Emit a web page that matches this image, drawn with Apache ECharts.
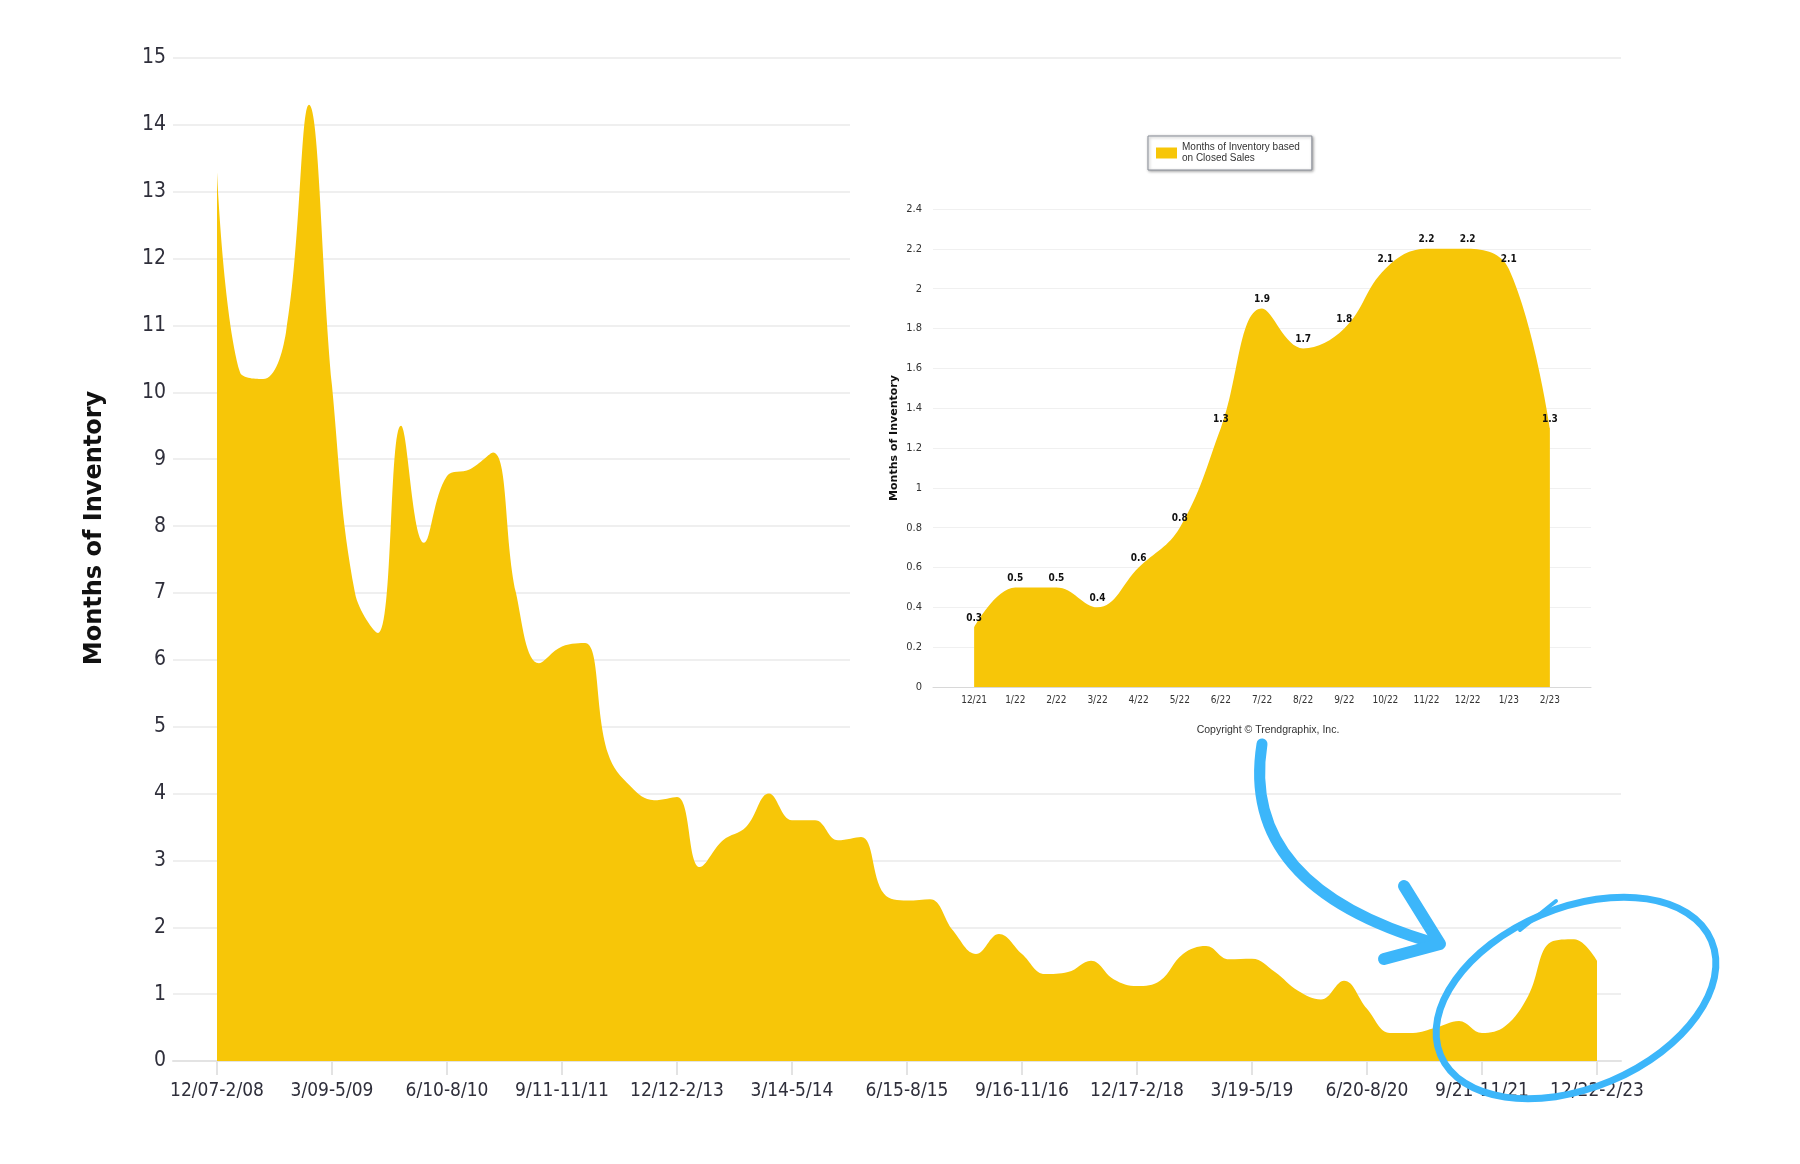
<!DOCTYPE html>
<html>
<head>
<meta charset="utf-8">
<script src="https://cdn.jsdelivr.net/npm/echarts@6/dist/echarts.min.js"></script>
<style>
  html, body { margin: 0; padding: 0; background: #fff; }
  #chart { width: 1800px; height: 1164px; }
</style>
</head>
<body>
<div id="chart"></div>
<script>
// quarterly periods of the long chart
const quarterLabels = [
  "12/07-2/08", "3/08-5/08", "6/08-8/08", "9/08-11/08",
  "12/08-2/09", "3/09-5/09", "6/09-8/09", "9/09-11/09",
  "12/09-2/10", "3/10-5/10", "6/10-8/10", "9/10-11/10",
  "12/10-2/11", "3/11-5/11", "6/11-8/11", "9/11-11/11",
  "12/11-2/12", "3/12-5/12", "6/12-8/12", "9/12-11/12",
  "12/12-2/13", "3/13-5/13", "6/13-8/13", "9/13-11/13",
  "12/13-2/14", "3/14-5/14", "6/14-8/14", "9/14-11/14",
  "12/14-2/15", "3/15-5/15", "6/15-8/15", "9/15-11/15",
  "12/15-2/16", "3/16-5/16", "6/16-8/16", "9/16-11/16",
  "12/16-2/17", "3/17-5/17", "6/17-8/17", "9/17-11/17",
  "12/17-2/18", "3/18-5/18", "6/18-8/18", "9/18-11/18",
  "12/18-2/19", "3/19-5/19", "6/19-8/19", "9/19-11/19",
  "12/19-2/20", "3/20-5/20", "6/20-8/20", "9/20-11/20",
  "12/20-2/21", "3/21-5/21", "6/21-8/21", "9/21-11/21",
  "12/21-2/22", "3/22-5/22", "6/22-8/22", "9/22-11/22",
  "12/22-2/23"
];

const monthsOfInventory = [
  13.3, 10.3, 10.2, 10.9, 14.3, 10.1, 7.0, 6.4, 9.5, 7.75,
  8.75, 8.85, 9.1, 7.0, 5.95, 6.2, 6.25, 4.6, 4.1, 3.9,
  3.95, 2.9, 3.3, 3.5, 4.0, 3.6, 3.6, 3.3, 3.35, 2.5,
  2.4, 2.42, 1.95, 1.6, 1.9, 1.6, 1.3, 1.33, 1.5, 1.22,
  1.12, 1.2, 1.6, 1.72, 1.52, 1.53, 1.33, 1.05, 0.92, 1.2,
  0.78, 0.42, 0.42, 0.5, 0.6, 0.42, 0.52, 0.97, 1.78, 1.82,
  1.5
];

// monthly inset
const insetMonths = ["12/21", "1/22", "2/22", "3/22", "4/22", "5/22", "6/22", "7/22",
  "8/22", "9/22", "10/22", "11/22", "12/22", "1/23", "2/23"];
const insetValues = [0.3, 0.5, 0.5, 0.4, 0.6, 0.8, 1.3, 1.9, 1.7, 1.8, 2.1, 2.2, 2.2, 2.1, 1.3];
const insetName = "Months of Inventory based on Closed Sales";

const yellow = "#f7c608";
const blue = "#3cb6fa";
const narrow = "'Liberation Sans Narrow', 'DejaVu Sans Condensed', sans-serif";

let myChart = echarts.init(document.getElementById("chart"));

let option = {
  animation: false,
  backgroundColor: "#fff",
  grid: [
    { left: 217, right: 203, top: 58, bottom: 103 },
    { left: 173, right: 179, top: 58, bottom: 103 },
    { left: 933, right: 209, top: 209, bottom: 477 },
  ],
  legend: {
    data: [insetName],
    left: 1148,
    top: 136,
    icon: "rect",
    itemWidth: 21,
    itemHeight: 11,
    itemGap: 0,
    padding: [6, 12, 6, 8],
    borderColor: "#8a8f99",
    borderWidth: 1,
    backgroundColor: "#fff",
    shadowColor: "rgba(0,0,0,0.35)",
    shadowBlur: 3,
    shadowOffsetX: 1,
    shadowOffsetY: 1,
    selectedMode: false,
    formatter: () => "Months of Inventory based\non Closed Sales",
    textStyle: { fontSize: 10, color: "#333", fontFamily: "Liberation Sans", lineHeight: 11 },
  },
  xAxis: [
    {
      gridIndex: 0,
      type: "category",
      data: quarterLabels,
      boundaryGap: false,
      axisLine: { show: false },
      axisTick: { show: true, interval: 4, length: 14, lineStyle: { color: "#e3e3e3", width: 2 } },
      axisLabel: { interval: 4, margin: 21, fontSize: 19, color: "#2f2f3b", fontFamily: narrow },
      splitLine: { show: false },
    },
    {
      gridIndex: 1,
      type: "value",
      min: 0,
      max: 1,
      axisLine: { show: true, lineStyle: { color: "#e3e3e3", width: 2 } },
      axisTick: { show: false },
      axisLabel: { show: false },
      splitLine: { show: false },
    },
    {
      gridIndex: 2,
      type: "value",
      min: -1,
      max: 15,
      interval: 1,
      z: 3,
      axisLine: { lineStyle: { color: "#d8d8d8" } },
      axisTick: { show: false },
      axisLabel: {
        formatter: (v) => insetMonths[v] || "",
        fontSize: 10,
        color: "#333",
        margin: 8,
        fontFamily: narrow,
      },
      splitLine: { show: false },
    },
  ],
  yAxis: [
    { gridIndex: 0, type: "value", min: 0, max: 15, interval: 1, show: false },
    {
      gridIndex: 1,
      type: "value",
      min: 0,
      max: 15,
      interval: 1,
      axisLine: { show: false },
      axisTick: { show: false },
      axisLabel: { fontSize: 21, color: "#2f2f3b", margin: 7, fontFamily: narrow },
      splitLine: { lineStyle: { color: "#efefef", width: 2 } },
    },
    {
      gridIndex: 2,
      type: "value",
      min: 0,
      max: 2.4,
      interval: 0.2,
      z: 3,
      axisLine: { show: false },
      axisTick: { show: false },
      axisLabel: {
        formatter: (v) => String(+v.toFixed(1)),
        fontSize: 11,
        color: "#333",
        margin: 11,
        fontFamily: narrow,
      },
      splitLine: { lineStyle: { color: "#f0f0f0" } },
    },
  ],
  series: [
    {
      name: "Months of Inventory",
      type: "line",
      xAxisIndex: 0,
      yAxisIndex: 0,
      data: monthsOfInventory,
      smooth: 0.4,
      symbol: "none",
      color: yellow,
      lineStyle: { width: 0 },
      areaStyle: { color: yellow, opacity: 1 },
      z: 2,
    },
    {
      name: insetName,
      type: "line",
      xAxisIndex: 2,
      yAxisIndex: 2,
      data: insetValues.map((v, i) => [i, v]),
      smooth: 0.4,
      symbol: "circle",
      symbolSize: 0.1,
      color: yellow,
      lineStyle: { width: 0 },
      areaStyle: { color: yellow, opacity: 1 },
      label: {
        show: true,
        position: "top",
        distance: 4,
        fontSize: 10,
        fontWeight: "bold",
        color: "#111",
        fontFamily: narrow,
      },
      z: 4,
    },
  ],
  graphic: [
    // white backing where the inset picture sits
    { type: "rect", z: 1, silent: true, shape: { x: 850, y: 66, width: 950, height: 700 }, style: { fill: "#fff" } },
    {
      type: "text",
      z: 5,
      x: 95,
      y: 528,
      rotation: Math.PI / 2,
      style: {
        text: "Months of Inventory",
        fill: "#111",
        font: "bold 24px 'DejaVu Sans'",
        align: "center",
        verticalAlign: "middle",
      },
    },
    {
      type: "text",
      z: 5,
      x: 894,
      y: 438,
      rotation: Math.PI / 2,
      style: {
        text: "Months of Inventory",
        fill: "#111",
        font: "bold 11px 'DejaVu Sans'",
        align: "center",
        verticalAlign: "middle",
      },
    },
    {
      type: "text",
      z: 5,
      x: 1268,
      y: 730,
      style: {
        text: "Copyright \u00a9 Trendgraphix, Inc.",
        fill: "#333",
        font: "10.5px 'Liberation Sans'",
        align: "center",
        verticalAlign: "middle",
      },
    },
    // hand-drawn arrow and circle
    {
      type: "bezierCurve",
      z: 100,
      shape: { x1: 1262, y1: 744, cpx1: 1245, cpy1: 850, cpx2: 1320, cpy2: 910, x2: 1434, y2: 943 },
      style: { stroke: blue, lineWidth: 11, fill: null, lineCap: "round" },
    },
    {
      type: "polyline",
      z: 100,
      shape: { points: [[1404, 886], [1440, 944], [1384, 959]] },
      style: { stroke: blue, lineWidth: 12, fill: null, lineCap: "round", lineJoin: "round" },
    },
    {
      type: "ellipse",
      z: 100,
      originX: 1576,
      originY: 998,
      rotation: 0.4,
      shape: { cx: 1576, cy: 998, rx: 147, ry: 90 },
      style: { stroke: blue, lineWidth: 7, fill: null },
    },
    {
      type: "line",
      z: 100,
      shape: { x1: 1520, y1: 930, x2: 1556, y2: 901 },
      style: { stroke: blue, lineWidth: 4, lineCap: "round" },
    },
  ],
};
option && myChart.setOption(option);
</script>
</body>
</html>
